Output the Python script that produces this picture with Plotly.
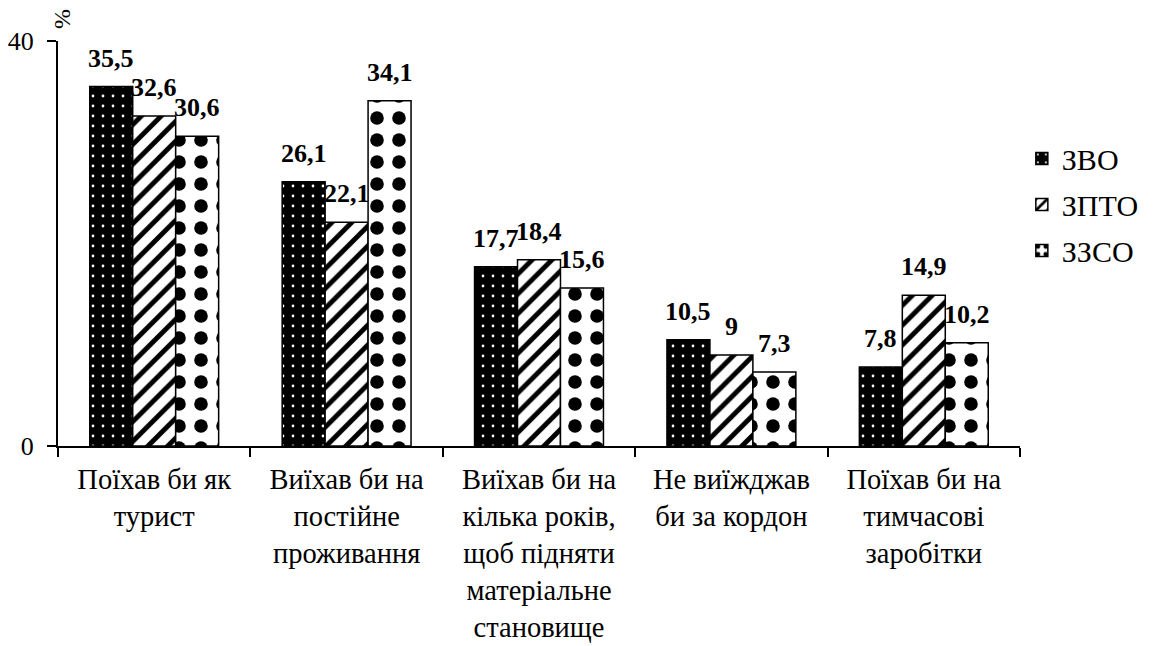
import plotly.graph_objects as go

categories = [
    "Поїхав би як<br>турист",
    "Виїхав би на<br>постійне<br>проживання",
    "Виїхав би на<br>кілька років,<br>щоб підняти<br>матеріальне<br>становище",
    "Не виїжджав<br>би за кордон",
    "Поїхав би на<br>тимчасові<br>заробітки",
]
series_names = ["ЗВО", "ЗПТО", "ЗЗСО"]
zvo = [35.5, 26.1, 17.7, 10.5, 7.8]
zpto = [32.6, 22.1, 18.4, 9.0, 14.9]
zzso = [30.6, 34.1, 15.6, 7.3, 10.2]

FONT = "Liberation Serif"
BARGAP = 0.33
PLOT_W = 962

patterns = [
    dict(shape=".", bgcolor="black", fgcolor="white", size=10, solidity=0.06, fillmode="replace"),
    dict(shape="/", bgcolor="white", fgcolor="black", size=14, solidity=0.35, fillmode="replace"),
    dict(shape=".", bgcolor="white", fgcolor="black", size=22, solidity=0.3, fillmode="replace"),
]

def fmt(v):
    s = ("%.1f" % v).rstrip("0").rstrip(".")
    return s.replace(".", ",")

fig = go.Figure()
series = [zvo, zpto, zzso]
for i, (name, vals) in enumerate(zip(series_names, series)):
    fig.add_trace(go.Bar(
        name=name,
        x=categories,
        y=vals,
        marker=dict(color="black", pattern=patterns[i], line=dict(color="black", width=1.5)),
        legendgroup=name,
    ))

bar_px = PLOT_W / len(categories) * (1 - BARGAP) / len(series)
anns = []
for i, vals in enumerate(series):
    for c, v in zip(categories, vals):
        anns.append(dict(
            x=c, y=v, xref="x", yref="y", text=fmt(v), showarrow=False,
            xanchor="center", yanchor="bottom", xshift=(i - 1) * bar_px, yshift=12,
            font=dict(family=FONT, size=26, color="black", weight="bold"),
        ))

anns.append(dict(
    text="%", textangle=-90, x=0, xref="paper", xanchor="center",
    y=1.0, yref="paper", yanchor="bottom", yshift=10, xshift=4,
    showarrow=False, font=dict(family=FONT, size=24, color="black"),
))

fig.update_layout(
    width=1160, height=638,
    margin=dict(l=50, r=148, t=33, b=200, autoexpand=False),
    paper_bgcolor="white", plot_bgcolor="white",
    barmode="group", bargap=BARGAP, bargroupgap=0,
    font=dict(family=FONT, size=24, color="black"),
    showlegend=True,
    legend=dict(xref="container", yref="container", x=0.874, y=0.805,
                xanchor="left", yanchor="top",
                font=dict(family=FONT, size=30, color="black"),
                tracegroupgap=4, itemwidth=30),
    xaxis=dict(
        automargin=False,
        showline=True, linecolor="black", linewidth=2,
        ticks="outside", ticklen=9, tickwidth=2, tickcolor="black",
        tickson="boundaries", ticklabelstandoff=7,
        tickfont=dict(family=FONT, size=28.5, color="black"),
        showgrid=False,
    ),
    yaxis=dict(
        automargin=False,
        range=[0, 40], tickvals=[0, 40], ticktext=["0", "40"],
        showline=True, linecolor="black", linewidth=2,
        ticks="outside", ticklen=9, tickwidth=2, tickcolor="black",
        ticklabelstandoff=8,
        tickfont=dict(family=FONT, size=26, color="black"),
        showgrid=False, zeroline=False,
    ),
    annotations=anns,
)

fig.write_html("out.html")
